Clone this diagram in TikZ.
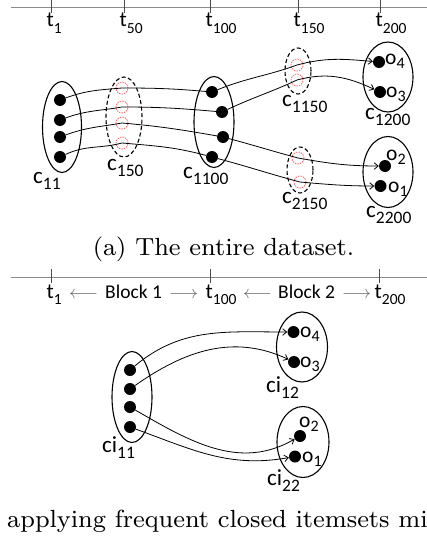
\documentclass[tikz,border=0pt]{standalone}
\usepackage{fontspec}
\newfontfamily\calfont{Carlito}
\usetikzlibrary{shapes.geometric,arrows.meta}
\newcommand{\tsub}[1]{\raisebox{-6pt}{\fontsize{15.5}{15.5}\selectfont #1}}
\newcommand{\csub}[1]{\raisebox{-6pt}{\fontsize{17.5}{17.5}\selectfont #1}}
\newcommand{\osub}[1]{\raisebox{-4.5pt}{\fontsize{16}{16}\selectfont #1}}
\newcommand{\capfont}[1]{\scalebox{3.1}{\fontsize{8}{9}\selectfont #1}}
\tikzset{
  tline/.style={draw=black!45, line width=0.9pt},
  tick/.style={draw=black!70, line width=0.7pt},
  tlab/.style={font=\calfont\fontsize{21.5}{21.5}\selectfont, anchor=base west, inner sep=0pt},
  clab/.style={font=\calfont\fontsize{23}{23}\selectfont, anchor=base west, inner sep=0pt},
  olab/.style={font=\calfont\fontsize{21.5}{21.5}\selectfont, anchor=base west, inner sep=0pt},
  blab/.style={font=\calfont\fontsize{19.5}{19.5}\selectfont, anchor=base west, inner sep=0pt},
  arlab/.style={anchor=base west, inner sep=0pt, text=black!60},
  caplab/.style={inner sep=0pt},
  grp/.style={draw, ellipse, line width=1.1pt, inner sep=0pt},
  dgrp/.style={draw, ellipse, line width=1.1pt, inner sep=0pt, dash pattern=on 4pt off 2.5pt},
  dot/.style={circle, fill=black, inner sep=0pt, minimum size=12pt},
  ghost/.style={circle, draw=red!65, line width=0.7pt, dash pattern=on 1.5pt off 1pt, inner sep=0pt, minimum size=12pt},
  conn/.style={-{Straight Barb[length=4pt,width=6.5pt]}, line width=0.8pt},
}
\begin{document}
\begin{tikzpicture}[x=1pt,y=-1pt]
\path[fill=white] (0,0) rectangle (427,538);
\useasboundingbox (0,0) rectangle (427,538);

% ---------- top timeline ----------
\draw[tline] (11,7) -- (427,7);
\foreach \x in {51,124,210,298,380} \draw[tick] (\x,0) -- (\x,13);
\node[tlab] (t1)   at (46.5,27)  {t\tsub{1}};
\node[tlab] (t50)  at (119.5,27) {t\tsub{50}};
\node[tlab] (t100) at (205.5,27) {t\tsub{100}};
\node[tlab] (t150) at (293.5,27) {t\tsub{150}};
\node[tlab] (t200) at (375.5,27) {t\tsub{200}};

% ---------- top groups ----------
\node[grp, minimum width=39pt, minimum height=91pt] (C11) at (62,127) {};
\node[dgrp, minimum width=36pt, minimum height=80pt] (C150) at (124,117) {};
\node[grp, minimum width=40pt, minimum height=91pt] (C1100) at (214,122) {};
\node[dgrp, minimum width=26pt, minimum height=46pt] (C1150) at (298,71) {};
\node[dgrp, minimum width=26pt, minimum height=46pt] (C2150) at (300,170) {};
\node[grp, minimum width=50pt, minimum height=70pt] (C1200) at (388,77) {};
\node[grp, minimum width=50pt, minimum height=71pt] (C2200) at (388,172) {};

\node[dot] (a1) at (60,100) {};
\node[dot] (a2) at (60,120) {};
\node[dot] (a3) at (60,137) {};
\node[dot] (a4) at (60,157) {};
\node[ghost] (r1) at (122,88) {};
\node[ghost] (r2) at (122,107) {};
\node[ghost] (r3) at (122,123) {};
\node[ghost] (r4) at (122,143) {};
\node[dot] (b1) at (212,92) {};
\node[dot] (b2) at (222,112) {};
\node[dot] (b3) at (223,137) {};
\node[dot] (b4) at (212,157) {};
\node[ghost] (q1) at (297,65) {};
\node[ghost] (q2) at (297,80) {};
\node[ghost] (s1) at (298,158) {};
\node[ghost] (s2) at (300,182) {};
\node[dot] (o4) at (379,62) {};
\node[dot] (o3) at (380,92) {};
\node[dot] (o2) at (385,166) {};
\node[dot] (o1) at (380.5,186) {};

\node[clab] (l11)   at (33,183)  {c\csub{11}};
\node[clab] (l150)  at (107,170) {c\csub{150}};
\node[clab] (l1100) at (183,178) {c\csub{1100}};
\node[clab] (l1150) at (282,106) {c\csub{1150}};
\node[clab] (l2150) at (282,203) {c\csub{2150}};
\node[clab] (l1200) at (365,119) {c\csub{1200}};
\node[clab] (l2200) at (366,217) {c\csub{2200}};
\node[olab] (lo4) at (385,64)  {o\osub{4}};
\node[olab] (lo3) at (386,97)  {o\osub{3}};
\node[olab] (lo2) at (386,160) {o\osub{2}};
\node[olab] (lo1) at (388,192) {o\osub{1}};

\draw[conn] (a1) to[out=20,in=185] (r1.center) to[out=0,in=175] (b1)
  to[out=22,in=200] (q1.center) to[out=15,in=175] (o4);
\draw[conn] (a2) to[out=20,in=190] (r2.center) to[out=0,in=175] (b2)
  to[out=25,in=205] (q2.center) to[out=15,in=155] (o3);
\draw[conn] (a3) to[out=20,in=190] (r3.center) to[out=-5,in=170] (b3)
  to[out=-15,in=165] (s1.center) to[out=-10,in=180] (o2);
\draw[conn] (a4) to[out=25,in=195] (r4.center) to[out=-5,in=165] (b4)
  to[out=-15,in=165] (s2.center) to[out=-5,in=180] (o1);

\node[caplab, anchor=base] (capa) at (223.5,255) {\capfont{(a) The entire dataset.}};

% ---------- bottom timeline ----------
\draw[tline] (11,277) -- (427,277);
\foreach \x in {51,210,379} \draw[tick] (\x,269) -- (\x,283);
\node[tlab] (u1)   at (46.5,298)  {t\tsub{1}};
\node[arlab] (ar1) at (69,298)  {\scalebox{1.8}{$\longleftarrow$}};
\node[blab] (bk1)  at (105,298) {Block 1};
\node[arlab] (ar2) at (169,298) {\scalebox{1.8}{$\longrightarrow$}};
\node[tlab] (u100) at (205.5,298) {t\tsub{100}};
\node[arlab] (ar3) at (243,298) {\scalebox{1.8}{$\longleftarrow$}};
\node[blab] (bk2)  at (278,298) {Block 2};
\node[arlab] (ar4) at (342,298) {\scalebox{1.8}{$\longrightarrow$}};
\node[tlab] (u200) at (374.5,298) {t\tsub{200}};

% ---------- bottom groups ----------
\node[grp, minimum width=40pt, minimum height=91pt] (CI11) at (132,397) {};
\node[grp, minimum width=51pt, minimum height=70pt] (CI12) at (302,347) {};
\node[grp, minimum width=52pt, minimum height=71pt] (CI22) at (303,442) {};

\node[dot] (d1) at (130,370) {};
\node[dot] (d2) at (130,389) {};
\node[dot] (d3) at (130,407) {};
\node[dot] (d4) at (130,427) {};
\node[dot] (p4) at (293.5,332) {};
\node[dot] (p3) at (294,362) {};
\node[dot] (p2) at (300,436) {};
\node[dot] (p1) at (295,456.5) {};

\node[olab] (mo4) at (300,337) {o\osub{4}};
\node[olab] (mo3) at (300,367) {o\osub{3}};
\node[olab] (mo2) at (299,427) {o\osub{2}};
\node[olab] (mo1) at (302,462) {o\osub{1}};
\node[clab] (m11) at (102,452) {ci\csub{11}};
\node[clab] (m12) at (266,392) {ci\csub{12}};
\node[clab] (m22) at (267,485) {ci\csub{22}};

\draw[conn] (d1) to[out=40,in=180] (p4);
\draw[conn] (d2) to[out=35,in=155] (p3);
\draw[conn] (d3) to[out=-30,in=210] (p2);
\draw[conn] (d4) to[out=-20,in=190] (p1);

\node[caplab, anchor=base west] (capb) at (7,527) {\capfont{applying frequent closed itemsets mi}};
\end{tikzpicture}
\end{document}
